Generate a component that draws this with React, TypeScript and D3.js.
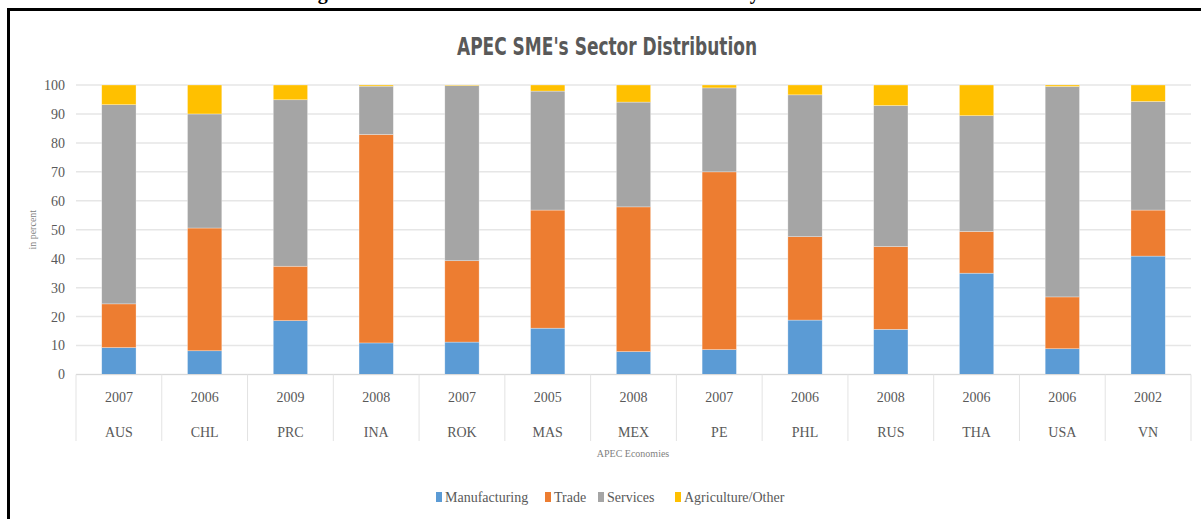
import * as d3 from "d3";

const ECONOMIES = ["AUS", "CHL", "PRC", "INA", "ROK", "MAS", "MEX", "PE", "PHL", "RUS", "THA", "USA", "VN"];
const YEARS = ["2007", "2006", "2009", "2008", "2007", "2005", "2008", "2007", "2006", "2008", "2006", "2006", "2002"];

const MANUFACTURING = [9.3, 8.2, 18.6, 10.9, 11.2, 16.0, 7.9, 8.6, 18.8, 15.6, 35.0, 8.9, 40.9];
const TRADE = [15.1, 42.4, 18.8, 72.0, 28.1, 40.8, 50.0, 61.4, 28.8, 28.6, 14.4, 17.9, 15.9];
const SERVICES = [68.8, 39.4, 57.5, 16.7, 60.5, 41.1, 36.2, 29.0, 49.0, 48.7, 40.0, 72.7, 37.5];
const AGRICULTURE = [6.8, 10.0, 5.1, 0.4, 0.2, 2.1, 5.9, 1.0, 3.4, 7.1, 10.6, 0.5, 5.7];

const SERIES = ["Manufacturing", "Trade", "Services", "Agriculture/Other"];
const COLORS = ["#5b9bd5", "#ed7d31", "#a5a5a5", "#ffc000"];
const Y_TICKS = [0, 10, 20, 30, 40, 50, 60, 70, 80, 90, 100];

const width = 1201;
const height = 519;
const plot = { left: 76, right: 1191, top: 85, bottom: 374.5 };
const serif = "'Liberation Serif', 'DejaVu Serif', serif";
const narrow = "'Liberation Sans Narrow', 'DejaVu Sans Condensed', 'Open Sans', sans-serif";

export default function App() {
  const x = d3.scaleBand<string>().domain(ECONOMIES).range([plot.left, plot.right]);
  const y = d3.scaleLinear().domain([0, 100]).range([plot.bottom, plot.top]);

  const rows = ECONOMIES.map((e, i) => ({
    economy: e,
    Manufacturing: MANUFACTURING[i],
    Trade: TRADE[i],
    Services: SERVICES[i],
    "Agriculture/Other": AGRICULTURE[i],
  }));
  const stacked = d3.stack<any>().keys(SERIES)(rows);

  const bw = x.bandwidth() * 0.4;
  const legendX = [436, 545, 598, 675];

  return (
    <svg
      width={width}
      height={height}
      style={{ position: "absolute", left: 0, top: 0, background: "#fff" }}
    >
      {/* caption of the page, cut off by the top edge */}
      <text x={300} y={-1} fontFamily={serif} fontWeight="bold" fontSize={20} fill="#000">
        Figure 3: SME Sector Distribution in APEC Economy
      </text>
      <line x1={8.5} x2={width} y1={9.5} y2={9.5} stroke="#000" strokeWidth={3} />
      <line x1={8.5} x2={8.5} y1={8} y2={height} stroke="#000" strokeWidth={3} />

      <text
        x={607}
        y={55}
        textAnchor="middle"
        fontFamily={narrow}
        fontWeight="bold"
        fontSize={24}
        textLength={300}
        lengthAdjust="spacingAndGlyphs"
        fill="#595959"
      >
        APEC SME's Sector Distribution
      </text>

      {Y_TICKS.map((t) => (
        <g key={t}>
          <line x1={plot.left} x2={plot.right} y1={y(t)} y2={y(t)} stroke="#e6e6e6" strokeWidth={1.5} />
          <text x={65} y={y(t)} dy="0.35em" textAnchor="end" fontFamily={serif} fontSize={14} fill="#595959">
            {t}
          </text>
        </g>
      ))}

      {stacked.map((s, si) => (
        <g key={s.key} fill={COLORS[si]}>
          {s.map((d, i) => (
            <rect
              key={i}
              x={(x(ECONOMIES[i]) as number) + (x.bandwidth() - bw) / 2}
              y={y(d[1])}
              width={bw}
              height={Math.max(0, y(d[0]) - y(d[1]))}
              stroke="#ffffff"
              strokeOpacity={0.5}
              strokeWidth={0.6}
            />
          ))}
        </g>
      ))}

      <line x1={plot.left} x2={plot.right} y1={plot.bottom} y2={plot.bottom} stroke="#d9d9d9" strokeWidth={1} />
      {[...ECONOMIES.map((e) => x(e) as number), plot.right].map((bx, i) => (
        <line key={i} x1={bx} x2={bx} y1={plot.bottom} y2={441} stroke="#e3e3e3" strokeWidth={1} />
      ))}
      {ECONOMIES.map((e, i) => (
        <g key={e} fontFamily={serif} fontSize={14} fill="#595959" textAnchor="middle">
          <text x={(x(e) as number) + x.bandwidth() / 2} y={402}>
            {YEARS[i]}
          </text>
          <text x={(x(e) as number) + x.bandwidth() / 2} y={437}>
            {e}
          </text>
        </g>
      ))}

      <text x={633} y={457} textAnchor="middle" fontFamily={serif} fontSize={10} fill="#7f7f7f">
        APEC Economies
      </text>
      <text
        transform={`translate(36, ${(plot.top + plot.bottom) / 2}) rotate(-90)`}
        textAnchor="middle"
        fontFamily={serif}
        fontSize={10}
        fill="#7f7f7f"
      >
        in percent
      </text>

      {SERIES.map((s, i) => (
        <g key={s}>
          <rect x={legendX[i]} y={492} width={6} height={10} fill={COLORS[i]} />
          <text x={legendX[i] + 9} y={502} fontFamily={serif} fontSize={14} fill="#595959">
            {s}
          </text>
        </g>
      ))}
    </svg>
  );
}
